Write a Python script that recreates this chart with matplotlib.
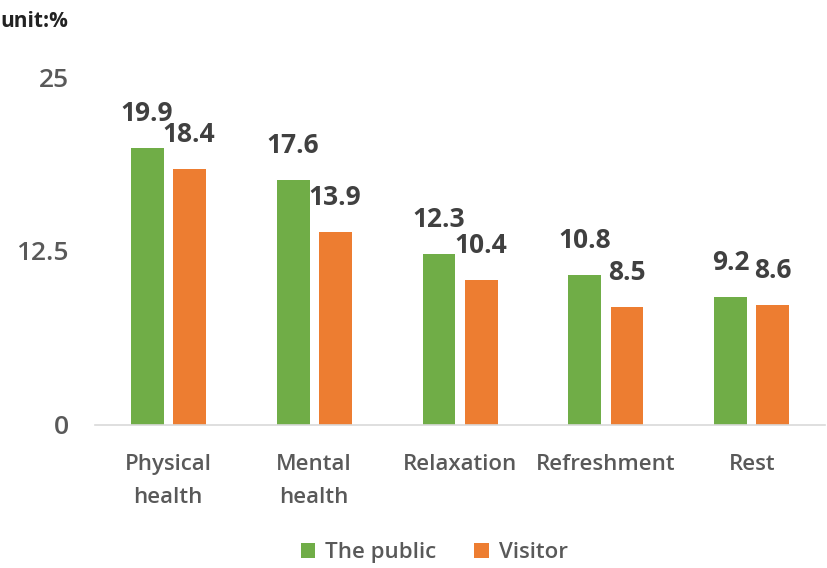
import matplotlib
matplotlib.use("Agg")
import matplotlib.pyplot as plt
import numpy as np

categories = ["Physical\nhealth", "Mental\nhealth", "Relaxation", "Refreshment", "Rest"]
public = [19.9, 17.6, 12.3, 10.8, 9.2]
visitor = [18.4, 13.9, 10.4, 8.5, 8.6]
yticks = [0, 12.5, 25]
ytick_labels = ["0", "12.5", "25"]

plt.rcParams['font.family'] = ['Open Sans', 'DejaVu Sans']

fig = plt.figure(figsize=(8.27, 5.68), dpi=100)
ax = fig.add_axes([0.115, 0.2518, 0.8825, 0.6126])

x = np.arange(len(categories))
w = 0.226
off = 0.144
green = "#70AD47"
orange = "#ED7D31"
b1 = ax.bar(x - off, public, w, color=green, label="The public")
b2 = ax.bar(x + off, visitor, w, color=orange, label="Visitor")

for bars, vals in ((b1, public), (b2, visitor)):
    for rect, v in zip(bars, vals):
        ax.annotate(f"{v}", (rect.get_x() + rect.get_width() / 2, v),
                    xytext=(0, 15), textcoords="offset points", ha="center", va="bottom",
                    fontsize=19, fontweight="bold", color="#404040")

ax.set_xlim(-0.5, len(categories) - 0.5)
ax.set_ylim(0, 25)
ax.set_yticks(yticks)
ax.set_yticklabels(ytick_labels, fontsize=19, color="#595959", fontweight="semibold")
ax.set_xticks(x)
ax.set_xticklabels(categories, fontsize=16, color="#595959", linespacing=1.75,
                   fontweight="semibold")
ax.tick_params(axis="x", length=0, pad=21)
ax.tick_params(axis="y", length=0, pad=19)
for s in ["top", "right", "left"]:
    ax.spines[s].set_visible(False)
ax.spines["bottom"].set_color("#D9D9D9")
ax.spines["bottom"].set_linewidth(1.2)

fig.text(0.0, 0.98, "unit:%", fontsize=15, fontweight="bold", color="#222222", ha="left", va="top")

leg = fig.legend(loc="center", bbox_to_anchor=(0.525, 0.027), ncol=2, frameon=False,
                 prop={"size": 16, "weight": "semibold"},
                 handlelength=0.65, handleheight=0.65, handletextpad=0.45,
                 columnspacing=1.7)
for t in leg.get_texts():
    t.set_color("#595959")

fig.savefig("out.png", dpi=100)
